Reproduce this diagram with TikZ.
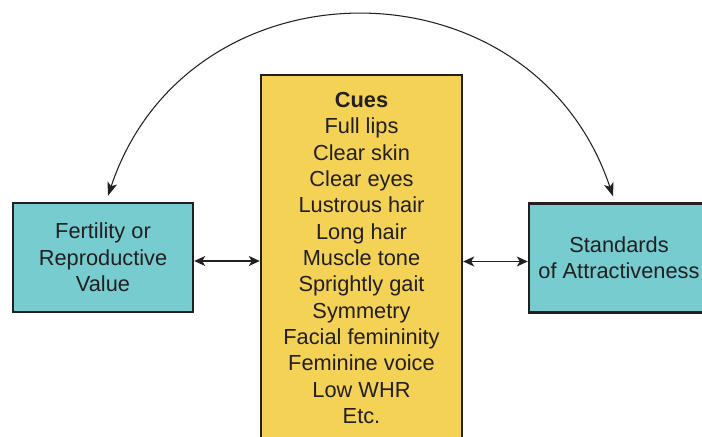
\documentclass[tikz,border=0pt]{standalone}
\usepackage{fontspec}
\setmainfont{Liberation Sans}
\usepackage{tikz}
\usetikzlibrary{shapes,arrows.meta,positioning,calc}
\usepackage{xcolor}
\definecolor{boxteal}{RGB}{118,204,207}
\definecolor{boxgold}{RGB}{243,210,86}
\definecolor{ink}{RGB}{35,31,32}

\begin{document}
\begin{tikzpicture}[x=0.02cm, y=0.02cm,
    box/.style={rectangle, draw=ink, line width=1.4pt, align=center, text=ink, inner sep=0pt, font=\fontsize{12.4}{15}\selectfont},
    side/.style={box, fill=boxteal, minimum width=3.6cm, minimum height=2.18cm},
    link/.style={{Stealth[length=0.22cm,width=0.2cm,inset=0.06cm]}-{Stealth[length=0.22cm,width=0.2cm,inset=0.06cm]}, line width=0.6pt, draw=ink},
    bow/.style={{Stealth[length=0.27cm,width=0.2cm,inset=0.07cm]}-{Stealth[length=0.27cm,width=0.2cm,inset=0.07cm]}, line width=0.6pt, draw=ink}
]
\useasboundingbox (0,0) rectangle (702,436);

% Cue list
\node[box, fill=boxgold, minimum width=4.02cm, minimum height=7.32cm] (cues) at (361.5,178)
    {\textbf{Cues}\\Full lips\\Clear skin\\Clear eyes\\Lustrous hair\\Long hair\\Muscle tone\\Sprightly gait\\Symmetry\\Facial femininity\\Feminine voice\\Low WHR\\Etc.};

% Side boxes
\node[side] (fert) at (103,178.5) {Fertility or\\Reproductive\\Value};
\node[side] (std) at (619,178) {Standards\\of Attractiveness};

% Arrows
\draw[link] ([yshift=-0.07cm]fert.east) -- ([yshift=-0.07cm]fert.east -| cues.west);
\draw[link] ([yshift=-0.07cm]cues.east |- std.west) -- ([yshift=-0.07cm]std.west);

% Arc over the top
\coordinate (ltip) at ([shift={(5,6)}]fert.north);
\coordinate (rtip) at ([shift={(-6,6)}]std.north);
\draw[bow] (ltip) to[out=71.5, in=108.5, looseness=1.29] (rtip);
\end{tikzpicture}
\end{document}
